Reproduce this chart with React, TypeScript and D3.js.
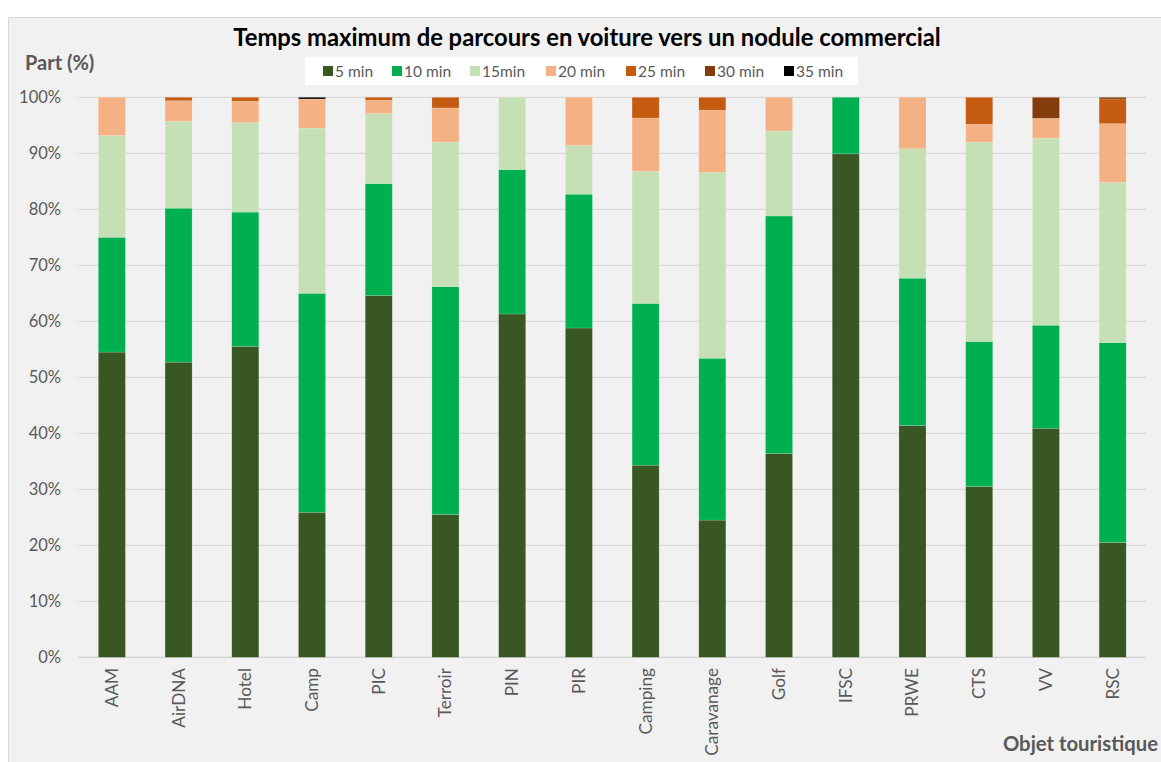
import React from "react";
import * as d3 from "d3";

const categories = ["AAM","AirDNA","Hotel","Camp","PIC","Terroir","PIN","PIR","Camping","Caravanage","Golf","IFSC","PRWE","CTS","VV","RSC"];
const seriesNames = ["5 min","10 min","15min","20 min","25 min","30 min","35 min"];
const min5  = [54.5,52.7,55.5,25.9,64.6,25.5,61.3,58.8,34.3,24.5,36.4,89.9,41.4,30.5,40.9,20.5];
const min10 = [20.5,27.5,24.0,39.1,20.0,40.7,25.8,23.9,28.9,28.9,42.4,10.1,26.3,25.9,18.4,35.7];
const min15 = [18.2,15.5,16.0,29.5,12.5,25.8,12.9,8.7,23.6,33.2,15.2,0,23.1,35.6,33.4,28.6];
const min20 = [6.8,3.7,3.8,5.2,2.4,6.1,0,8.6,9.5,11.1,6.0,0,9.2,3.2,3.55,10.5];
const min25 = [0,0.6,0.7,0,0.5,1.9,0,0,3.7,2.3,0,0,0,4.8,0,4.4];
const min30 = [0,0,0,0,0,0,0,0,0,0,0,0,0,0,3.75,0.3];
const min35 = [0,0,0,0.3,0,0,0,0,0,0,0,0,0,0,0,0];
const yTicks = [0,0.1,0.2,0.3,0.4,0.5,0.6,0.7,0.8,0.9,1];
const colors = ["#385723","#00b050","#c5e0b4","#f4b183","#c55a11","#843c0c","#000000"];

const W = 1161, H = 762;
const plot = { left: 78.5, right: 1146, top: 97.3, bottom: 657.3 };
const legendBox = { x: 305, y: 57, w: 553, h: 28 };
const legendOffsets = [18, 87, 165, 241, 321, 400, 479];
const FONT = "Lato, 'Open Sans', sans-serif";
const GRAY = "#595959";

export default function App() {
  const seriesArrays = [min5, min10, min15, min20, min25, min30, min35];
  const rows = categories.map((c, i) => {
    const r: any = { cat: c };
    seriesNames.forEach((s, k) => (r[s] = seriesArrays[k][i]));
    return r;
  });
  const stack = d3.stack<any>().keys(seriesNames).offset(d3.stackOffsetExpand);
  const layers = stack(rows);
  const x = d3.scaleBand<string>().domain(categories).range([plot.left, plot.right]).paddingInner(0.595).paddingOuter(0.2975);
  const y = d3.scaleLinear().domain([0, 1]).range([plot.bottom, plot.top]);
  const fmt = d3.format(".0%");

  return (
    <svg width={W} height={H} style={{ position: "absolute", left: 0, top: 0, display: "block" }} fontFamily={FONT}>
      <rect x={0} y={0} width={W} height={H} fill="#ffffff" />
      <rect x={8.5} y={17.5} width={W} height={H} fill="#f1f1f1" stroke="#d9d9d9" strokeWidth={1} />
      <text x={587} y={46} textAnchor="middle" fontWeight="bold" fontSize={23.8} fill="#000">
        Temps maximum de parcours en voiture vers un nodule commercial
      </text>
      <text x={25} y={70} fontWeight="bold" fontSize={20} fill={GRAY}>Part (%)</text>
      {yTicks.map((t) => (
        <g key={t}>
          <line x1={plot.left} x2={plot.right} y1={y(t)} y2={y(t)} stroke={t === 0 ? "#d0d0d0" : "#d9d9d9"} strokeWidth={1.2} />
          <text x={61} y={y(t) + 5.5} textAnchor="end" fontSize={16.5} fill={GRAY}>{fmt(t)}</text>
        </g>
      ))}
      {layers.map((layer, k) => (
        <g key={layer.key} fill={colors[k]}>
          {layer.map((d, i) => {
            const h = y(d[0]) - y(d[1]);
            if (h <= 0) return null;
            return <rect key={i} x={x(categories[i])} y={y(d[1])} width={x.bandwidth()} height={h} stroke="#ffffff" strokeOpacity={0.25} strokeWidth={0.6} />;
          })}
        </g>
      ))}
      {categories.map((c) => {
        const cx = (x(c) as number) + x.bandwidth() / 2;
        return (
          <text key={c} transform={`translate(${cx + 6},${668}) rotate(-90)`} textAnchor="end" fontSize={17.2} fill={GRAY}>{c}</text>
        );
      })}
      <rect x={legendBox.x} y={legendBox.y} width={legendBox.w} height={legendBox.h} fill="#ffffff" />
      {seriesNames.map((s, k) => (
        <g key={s} transform={`translate(${legendBox.x + legendOffsets[k]},${legendBox.y + legendBox.h / 2})`}>
          <rect x={0} y={-5} width={10} height={10} fill={colors[k]} />
          <text x={12} y={5.5} fontSize={15.5} fill={GRAY}>{s}</text>
        </g>
      ))}
      <text x={1158} y={751} textAnchor="end" fontWeight="bold" fontSize={20.3} fill={GRAY}>Objet touristique</text>
    </svg>
  );
}
